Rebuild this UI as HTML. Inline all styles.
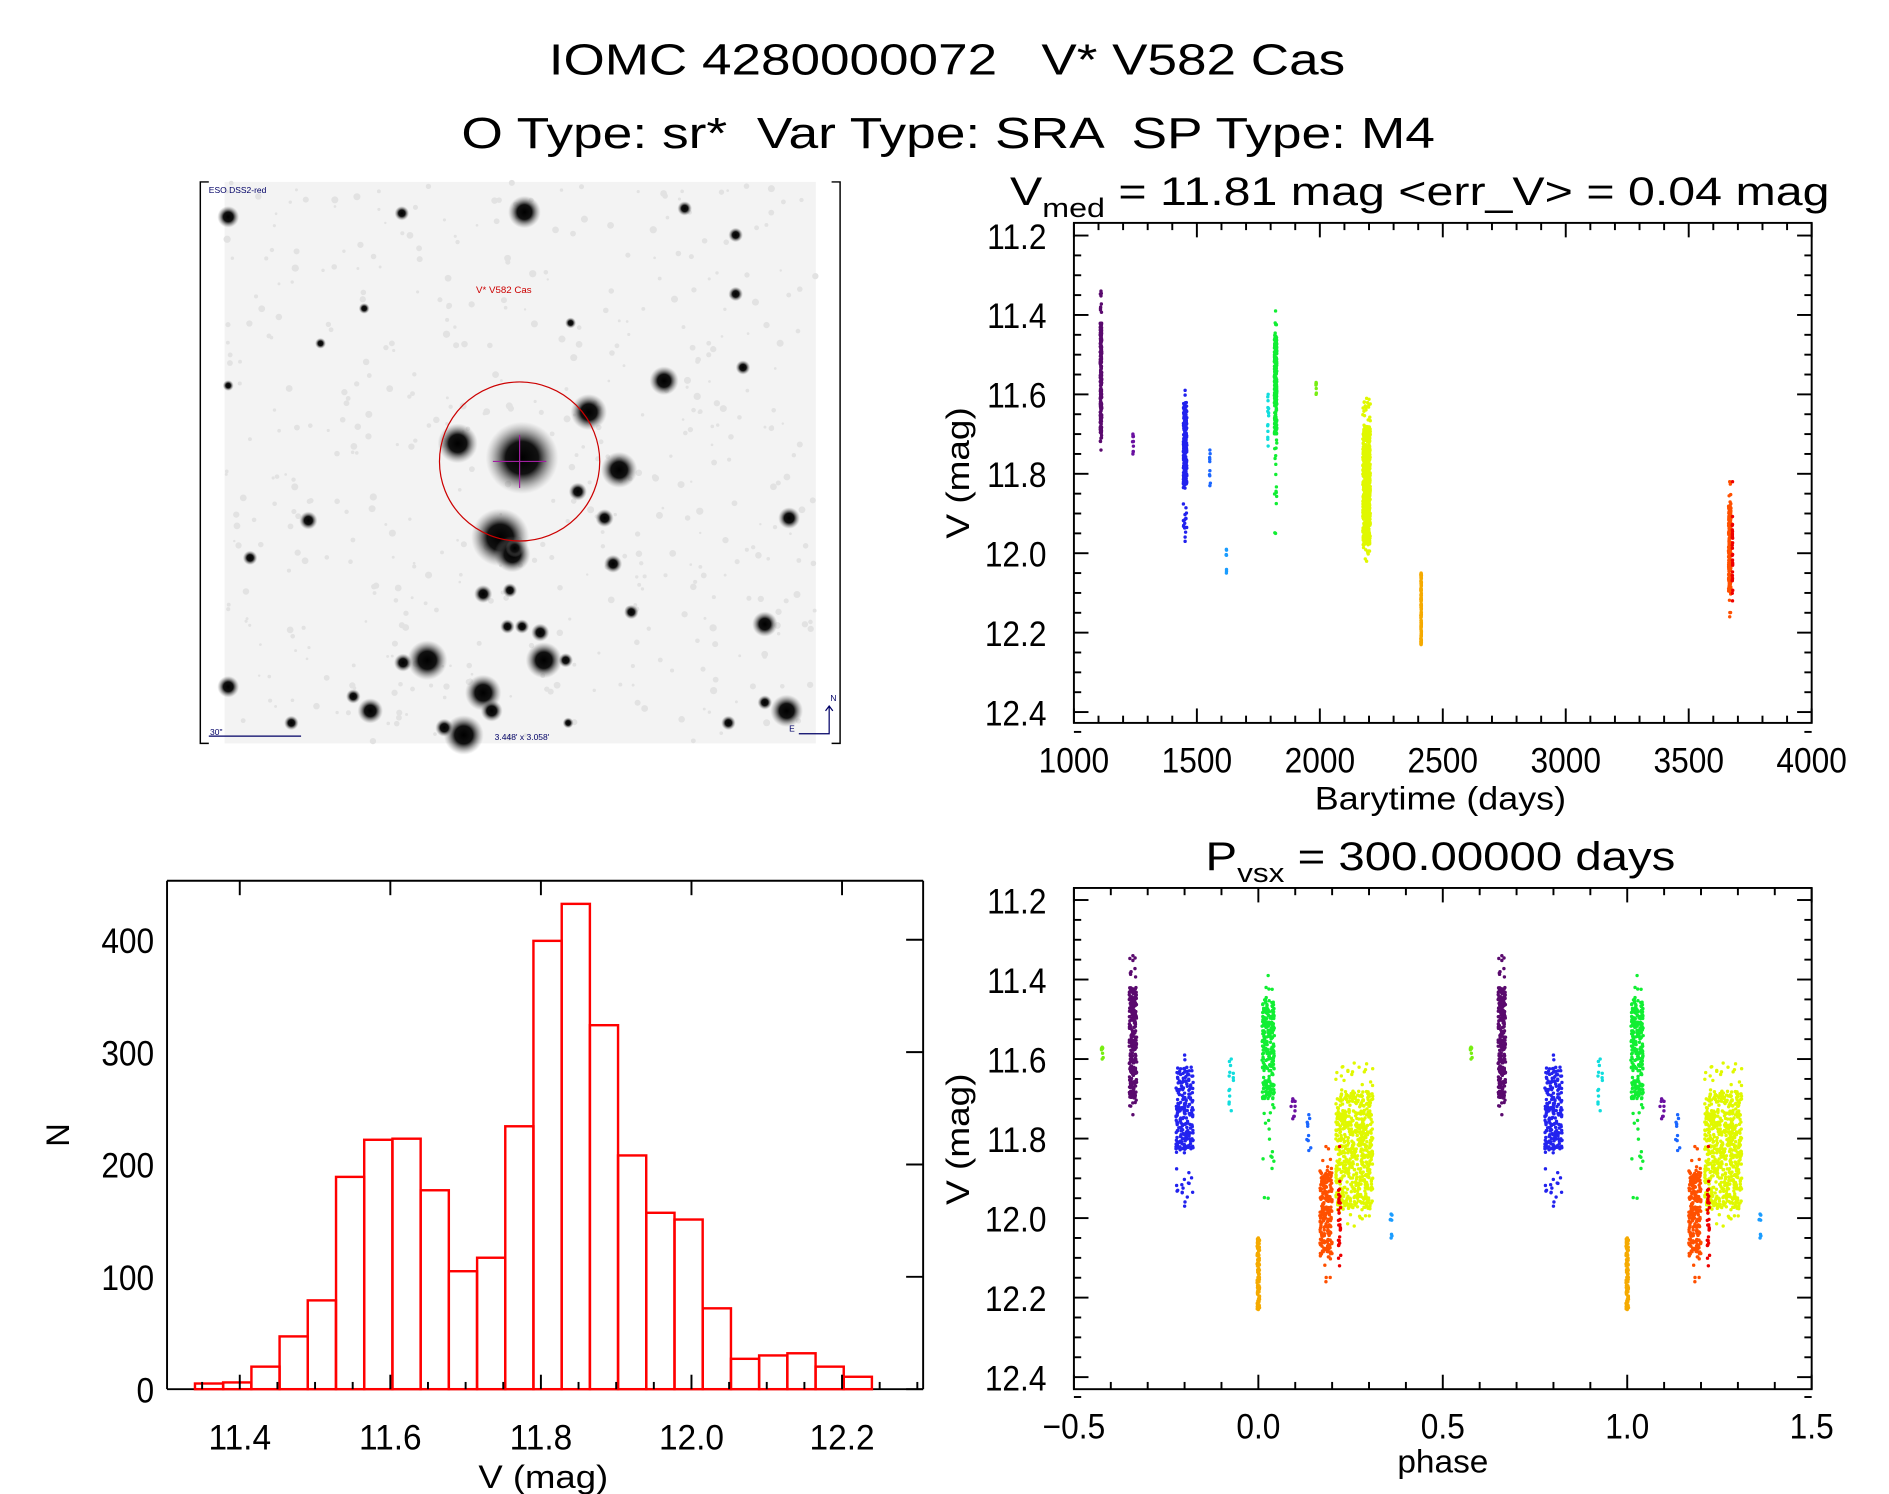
<!DOCTYPE html>
<html><head><meta charset="utf-8"><style>
html,body{margin:0;padding:0;background:#fff;}
svg{display:block;}
text{font-family:"Liberation Sans",sans-serif;fill:#000;}
</style></head><body>
<svg id="s" xmlns="http://www.w3.org/2000/svg" width="1889" height="1494" viewBox="0 0 1556 1240" preserveAspectRatio="none">
<defs>
<radialGradient id="st"><stop offset="0" stop-color="#000"/><stop offset="0.45" stop-color="#111"/><stop offset="1" stop-color="#888" stop-opacity="0"/></radialGradient>
</defs>
<rect width="1556" height="1240" fill="#fff"/>
<text x="452" y="62" font-size="36" textLength="656" lengthAdjust="spacingAndGlyphs" xml:space="preserve">IOMC 4280000072   V* V582 Cas</text>
<text x="380" y="123" font-size="36" textLength="802" lengthAdjust="spacingAndGlyphs" xml:space="preserve">O Type: sr*  Var Type: SRA  SP Type: M4</text>
<g id="img"></g>
<g id="g"></g>
</svg>
<script>
var g=document.getElementById('g'), im=document.getElementById('img');
var out=[];
function L(x1,y1,x2,y2,c,w){out.push('<line x1="'+x1+'" y1="'+y1+'" x2="'+x2+'" y2="'+y2+'" stroke="'+(c||'#000')+'" stroke-width="'+(w||1.6)+'"/>');}
function T(x,y,s,fs,a,extra){out.push('<text x="'+x+'" y="'+y+'" font-size="'+fs+'" text-anchor="'+(a||'middle')+'" '+(extra||'')+'>'+s+'</text>');}
function TS(x,y,s,fs,a,sx){out.push('<text transform="translate('+x+','+y+') scale('+sx+',1)" font-size="'+fs+'" text-anchor="'+(a||'middle')+'">'+s+'</text>');}
var seed=12345;function rnd(){seed=(seed*1103515245+12345)%2147483648;return seed/2147483648;}

var ih=[];
ih.push('<rect x="185" y="151" width="487" height="466" fill="#f3f3f3"/>');
for(var i=0;i<500;i++){var x=185+rnd()*487,y=151+rnd()*466;ih.push('<circle cx="'+x.toFixed(1)+'" cy="'+y.toFixed(1)+'" r="'+(1+rnd()*2).toFixed(1)+'" fill="#e2e2e2"/>');}
var stars=[[432,176,9],[430,380,20],[412,446,16],[422,460,10],[377,368,11],[485,342,10],[510,390,10],[547,316,8],[352,548,11],[448,548,10],[398,575,10],[405,590,6],[382,610,11],[630,518,7],[648,590,9],[650,430,6],[606,195,4],[606,244,4],[564,173,4],[331,177,4],[188,180,6],[188,570,6],[305,590,7],[332,550,5],[291,578,4],[398,493,5],[445,525,5],[466,548,4],[430,520,4],[424,455,5],[505,468,5],[612,305,4],[470,268,3],[254,432,5],[206,463,4],[240,600,4],[264,285,3],[366,604,5],[520,508,4],[630,583,4],[600,600,4],[468,600,3],[188,320,3],[300,256,3],[476,408,5],[498,430,5],[420,490,4],[418,520,4]];
stars.forEach(function(s){ih.push('<circle cx="'+s[0]+'" cy="'+s[1]+'" r="'+(s[2]*1.5)+'" fill="url(#st)"/>');});
ih.push('<circle cx="428" cy="383" r="66" fill="none" stroke="#c00" stroke-width="1"/>');
ih.push('<line x1="428" y1="361" x2="428" y2="405" stroke="#a020a0" stroke-width="1"/><line x1="406" y1="383" x2="450" y2="383" stroke="#a020a0" stroke-width="1"/>');
ih.push('<text x="415" y="243" font-size="8" text-anchor="middle" style="fill:#c00">V* V582 Cas</text>');
ih.push('<text x="172" y="160" font-size="7" style="fill:#006">ESO DSS2-red</text>');
ih.push('<text x="173" y="610" font-size="7" style="fill:#006">30"</text><line x1="172" y1="611" x2="248" y2="611" stroke="#006" stroke-width="1"/>');
ih.push('<text x="430" y="614" font-size="7" text-anchor="middle" style="fill:#006">3.448\' x 3.058\'</text>');
ih.push('<path d="M658 609 H683 V586 M680 590 L683 586 L686 590" fill="none" stroke="#006" stroke-width="1"/><text x="684" y="582" font-size="7" style="fill:#006">N</text><text x="650" y="607" font-size="7" style="fill:#006">E</text>');
ih.push('<path d="M172 151 H165 V617 H172 M685 151 H692 V617 H685" fill="none" stroke="#000" stroke-width="1.2"/>');
im.innerHTML=ih.join('');

function frame(x0,y0,x1,y1){out.push('<rect x="'+x0+'" y="'+y0+'" width="'+(x1-x0)+'" height="'+(y1-y0)+'" fill="none" stroke="#000" stroke-width="1.6"/>');}
var SX=0.9, FS=29;
var X0=884.6,X1=1492.3;
var A={y0:185,y1:600};
function tx(t){return X0+(t-1000)*(X1-X0)/3000;}
function vy(v){return 195.5+(v-11.2)*(591-195.5)/1.2;}
frame(X0,A.y0,X1,A.y1);
for(var t=1000;t<=4000;t+=100){var x=tx(t),len=(t%500==0)?12:6;L(x,A.y1,x,A.y1-len);L(x,A.y0,x,A.y0+len);}
for(var t=1000;t<=4000;t+=500)TS(tx(t),641,t,FS,'middle',SX);
for(var v=11.2;v<=12.451;v+=0.05){var y=vy(v),k=Math.round(v*100)%20==0,len=k?12:6;L(X0,y,X0+len,y);L(X1,y,X1-len,y);}
for(var j=0;j<=6;j++){var v=11.2+0.2*j;TS(862,vy(v)+11,v.toFixed(1),FS,'end',SX);}
T(1083,672,'Barytime (days)',27,'start','textLength="207" lengthAdjust="spacingAndGlyphs"');
out.push('<text transform="translate(798,447) rotate(-90)" font-size="27" textLength="109" lengthAdjust="spacingAndGlyphs">V (mag)</text>');
out.push('<text x="832" y="170" font-size="33" textLength="675" lengthAdjust="spacingAndGlyphs" xml:space="preserve">V<tspan font-size="22" dy="10">med</tspan><tspan dy="-10"> = 11.81 mag &lt;err_V&gt; = 0.04 mag</tspan></text>');

var B={y0:737,y1:1153};
function px(p){return X0+(p+0.5)*(X1-X0)/2;}
function vy2(v){return 747+(v-11.2)*(1143-747)/1.2;}
frame(X0,B.y0,X1,B.y1);
for(var i=0;i<=20;i++){var p=-0.5+i*0.1,x=px(p),len=(i%5==0)?12:6;L(x,B.y1,x,B.y1-len);L(x,B.y0,x,B.y0+len);}
['\u22120.5','0.0','0.5','1.0','1.5'].forEach(function(s,i){TS(px(-0.5+i*0.5),1194,s,FS,'middle',SX);});
for(var v=11.2;v<=12.451;v+=0.05){var y=vy2(v),k=Math.round(v*100)%20==0,len=k?12:6;L(X0,y,X0+len,y);L(X1,y,X1-len,y);}
for(var j=0;j<=6;j++){var v=11.2+0.2*j;TS(862,vy2(v)+11,v.toFixed(1),FS,'end',SX);}
T(1151,1222,'phase',27,'start','textLength="75" lengthAdjust="spacingAndGlyphs"');
out.push('<text transform="translate(798,1000) rotate(-90)" font-size="27" textLength="109" lengthAdjust="spacingAndGlyphs">V (mag)</text>');
out.push('<text x="993" y="722" font-size="33" textLength="387" lengthAdjust="spacingAndGlyphs" xml:space="preserve">P<tspan font-size="22" dy="10">vsx</tspan><tspan dy="-10"> = 300.00000 days</tspan></text>');

var C=[
[1110,3,11.34,11.74,11.42,11.70,260,'#5a0a6e'],
[1240,2,11.70,11.75,11.70,11.75,8,'#6a10a0'],
[1452,7,11.59,11.97,11.62,11.83,230,'#2222ee'],
[1553,2,11.74,11.83,11.74,11.83,8,'#1a66ff'],
[1620,1,11.99,12.05,11.99,12.05,6,'#1a9cff'],
[1790,2,11.60,11.73,11.60,11.72,12,'#11dddd'],
[1820,5,11.39,11.95,11.45,11.70,260,'#11ee33'],
[1985,1,11.57,11.60,11.57,11.60,6,'#77ee11'],
[2190,15,11.61,12.02,11.68,11.98,650,'#e0f800'],
[2412,1,12.05,12.23,12.05,12.23,120,'#f5aa00'],
[3667,5,11.82,12.16,11.88,12.10,230,'#ff5000'],
[3678,1,11.82,12.12,11.90,12.10,30,'#ee0000']];
var pts=[];
C.forEach(function(c){for(var i=0;i<c[6];i++){var v;if(rnd()<0.85)v=c[4]+rnd()*(c[5]-c[4]);else v=c[2]+rnd()*(c[3]-c[2]);var t=c[0]+(rnd()*2-1)*c[1];pts.push([t,v,c[7]]);}
 pts.push([c[0],c[2],c[7]]);pts.push([c[0],c[3],c[7]]);});
pts.forEach(function(q){
 out.push('<circle cx="'+tx(q[0]).toFixed(1)+'" cy="'+vy(q[1]).toFixed(1)+'" r="1.4" fill="'+q[2]+'"/>');
 var p=((q[0]-912)/300)%1; if(p<0)p+=1;
 [p-1,p,p+1].forEach(function(pp){if(pp>=-0.5&&pp<=1.5)out.push('<circle cx="'+px(pp).toFixed(1)+'" cy="'+vy2(q[1]).toFixed(1)+'" r="1.4" fill="'+q[2]+'"/>');});
});

var H={x0:137.6,x1:760.4,y0:731,y1:1153};
function hx(v){return 197.5+(v-11.4)*(693.6-197.5)/0.8;}
function hy(n){return 1153-n*(1153-780)/400;}
L(H.x0,H.y0,H.x0,H.y1);L(H.x1,H.y0,H.x1,H.y1);L(H.x0,H.y0,H.x1,H.y0);L(H.x0,H.y1,H.x1,H.y1);
var cnt=[5,6,20,47,79,189,222,223,177,105,117,234,399,432,324,208,157,151,72,27,30,32,20,11];
var e0=11.3405,bw=0.03747;
for(var i=0;i<cnt.length;i++){var xa=hx(e0+i*bw),xb=hx(e0+(i+1)*bw);out.push('<rect x="'+xa.toFixed(1)+'" y="'+hy(cnt[i]).toFixed(1)+'" width="'+(xb-xa).toFixed(1)+'" height="'+(1153-hy(cnt[i])).toFixed(1)+'" fill="none" stroke="#f00" stroke-width="2"/>');}
for(var i=0;i<=4;i++){var y=hy(i*100);L(H.x1,y,H.x1-14,y);TS(127,y+11,i*100,FS,'end',SX);}
for(var v=11.35;v<=12.301;v+=0.05){var x=hx(v),k=Math.round(v*100)%20==0;L(x,H.y1,x,H.y1+(k?-12:-6));if(k)L(x,H.y0,x,H.y0+12);}
['11.4','11.6','11.8','12.0','12.2'].forEach(function(s,i){TS(hx(11.4+0.2*i),1203,s,FS,'middle',0.95);});
T(394,1235,'V (mag)',27,'start','textLength="107" lengthAdjust="spacingAndGlyphs"');
out.push('<text transform="translate(57,942) rotate(-90)" font-size="27" text-anchor="middle">N</text>');

g.innerHTML=out.join('');
</script>
</body></html>
